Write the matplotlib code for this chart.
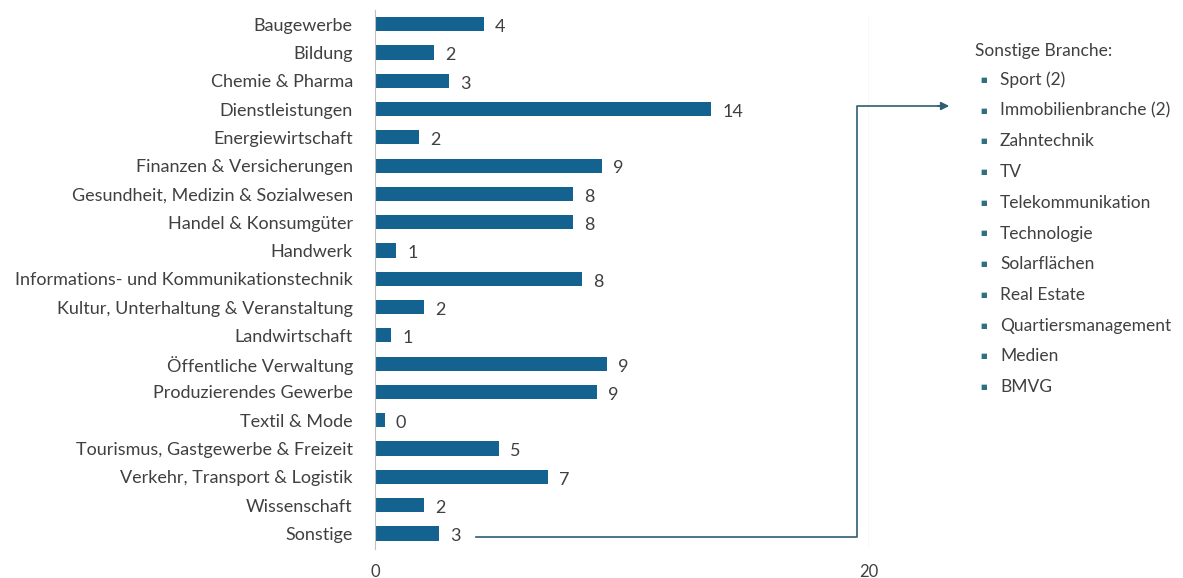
import matplotlib.pyplot as plt
from matplotlib.lines import Line2D

plt.rcParams['font.family'] = ['Lato', 'DejaVu Sans']

branchen = ["Baugewerbe", "Bildung", "Chemie & Pharma", "Dienstleistungen",
            "Energiewirtschaft", "Finanzen & Versicherungen",
            "Gesundheit, Medizin & Sozialwesen", "Handel & Konsumgüter",
            "Handwerk", "Informations- und Kommunikationstechnik",
            "Kultur, Unterhaltung & Veranstaltung", "Landwirtschaft",
            "Öffentliche Verwaltung", "Produzierendes Gewerbe", "Textil & Mode",
            "Tourismus, Gastgewerbe & Freizeit", "Verkehr, Transport & Logistik",
            "Wissenschaft", "Sonstige"]
werte = [4.4, 2.4, 3.0, 13.6, 1.8, 9.2, 8.0, 8.0, 0.85, 8.4,
         2.0, 0.65, 9.4, 9.0, 0.4, 5.0, 7.0, 2.0, 2.6]
sonstige = ["Sport (2)", "Immobilienbranche (2)", "Zahntechnik", "TV",
            "Telekommunikation", "Technologie", "Solarflächen", "Real Estate",
            "Quartiersmanagement", "Medien", "BMVG"]

bar_col = "#13628F"
txt_col = "#404040"
W, H = 1183, 578
fs = 13

fig = plt.figure(figsize=(W / 100, H / 100), dpi=100)
ax = fig.add_axes([375 / W, 1 - 549 / H, (869 - 375) / W, (549 - 10) / H])

y = list(range(len(branchen)))
ax.barh(y, werte, height=0.5, color=bar_col)
for yi, v in zip(y, werte):
    ax.text(v + 0.45, yi + 0.1, f"{v:.0f}", va="center", ha="left",
            fontsize=fs, color=txt_col)

ax.set_xlim(0, 20)
ax.set_ylim(18.55, -0.5)
ax.set_yticks(y)
ax.set_yticklabels(branchen, fontsize=fs, color=txt_col)
ax.set_xticks([0, 20])
ax.set_xticklabels(["0", "20"], fontsize=12, color=txt_col)
ax.tick_params(axis="y", length=0, pad=16)
ax.tick_params(axis="x", length=0, pad=11)
for s in ["top", "right", "bottom"]:
    ax.spines[s].set_visible(False)
ax.spines["left"].set_color("#bfbfbf")
ax.axvline(20, color="#dcdcdc", lw=1, ymax=0.99)

# connector from "Sonstige" to the list on the right
line_col = "#2E5E73"
px = [476, 857, 857, 940]
py = [537, 537, 106, 106]
fig.add_artist(Line2D([p / W for p in px], [1 - p / H for p in py],
                      color=line_col, lw=1.2))
ax.annotate("", xy=(952 / W, 1 - 106 / H), xytext=(935 / W, 1 - 106 / H),
            xycoords="figure fraction", textcoords="figure fraction",
            arrowprops=dict(arrowstyle="-|>", color=line_col, lw=1.2,
                            mutation_scale=12))

fig.text(975 / W, 1 - 51 / H, "Sonstige Branche:", fontsize=fs - 0.5,
         color=txt_col, va="center")
for i, name in enumerate(sonstige):
    yy = 1 - (80 + i * 30.7) / H
    fig.text(980 / W, yy, "■", fontsize=5, color="#2F6F7F", va="center",
             family="DejaVu Sans")
    fig.text(1000 / W, yy, name, fontsize=fs - 0.5, color=txt_col, va="center")

fig.savefig("out.png", dpi=100)
